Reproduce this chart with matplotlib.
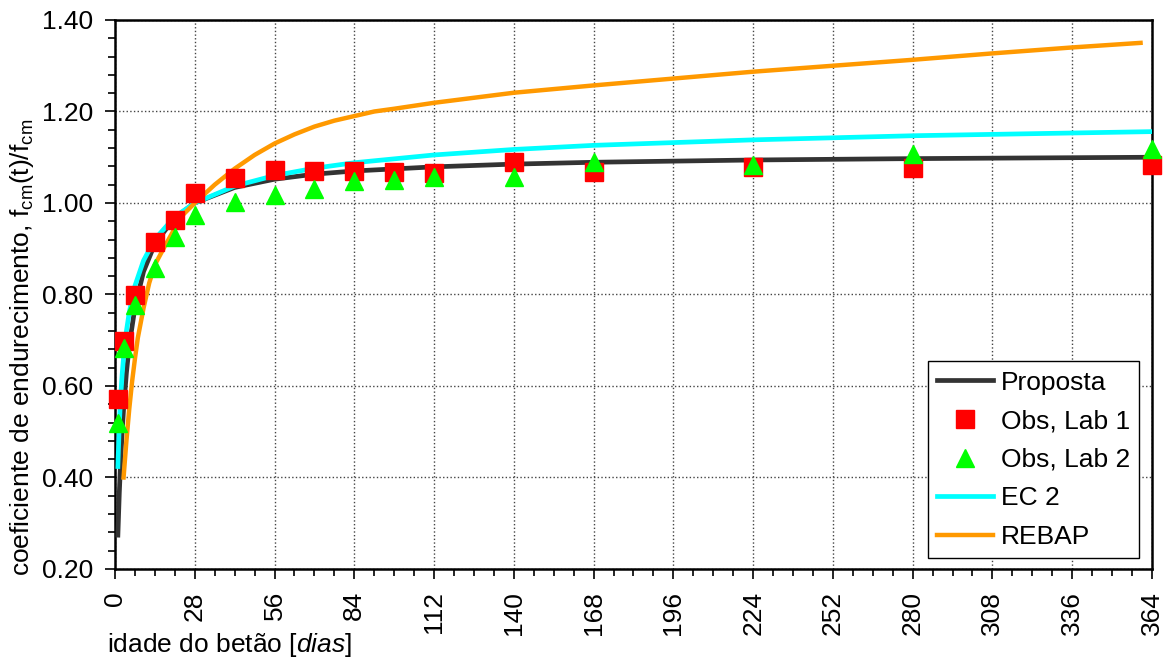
import numpy as np
import matplotlib
matplotlib.use("Agg")
import matplotlib.pyplot as plt
from matplotlib.ticker import MultipleLocator, FormatStrFormatter

plt.rcParams["font.family"] = ["Liberation Sans", "DejaVu Sans"]
plt.rcParams["mathtext.fontset"] = "custom"
plt.rcParams["mathtext.rm"] = "Liberation Sans"
plt.rcParams["mathtext.it"] = "Liberation Sans:italic"

# ---- Observed values (age in days, ratio fcm(t)/fcm)
obs_days = [1, 3, 7, 14, 21, 28, 42, 56, 70, 84, 98, 112, 140, 168, 224, 280, 364]
lab1 = [0.572, 0.699, 0.799, 0.915, 0.963, 1.021, 1.054, 1.072, 1.071, 1.071,
        1.068, 1.066, 1.089, 1.067, 1.079, 1.076, 1.083]
lab2 = [0.519, 0.683, 0.777, 0.858, 0.926, 0.974, 1.003, 1.017, 1.030, 1.047,
        1.050, 1.057, 1.056, 1.089, 1.083, 1.107, 1.117]

# ---- Curves
curve_days = [1, 1.5, 2, 2.5, 3, 4, 5, 7, 10, 14, 21, 28, 42, 56, 70, 84,
              112, 140, 168, 224, 280, 364]
proposta = [0.274, 0.366, 0.439, 0.500, 0.550, 0.629, 0.689, 0.772, 0.850,
            0.911, 0.968, 1.000, 1.034, 1.052, 1.063, 1.070, 1.079, 1.085,
            1.089, 1.094, 1.097, 1.100]
ec2 = [0.424, 0.515, 0.578, 0.625, 0.663, 0.720, 0.761, 0.819, 0.874,
       0.921, 0.970, 1.000, 1.037, 1.060, 1.076, 1.088, 1.105, 1.117,
       1.126, 1.138, 1.147, 1.156]

rebap_days = [3, 4, 5, 6, 7, 8, 10, 12, 14, 17, 21, 24, 28, 35, 42, 49, 56,
              63, 70, 77, 84, 91, 98, 112, 140, 168, 196, 224, 280, 308, 336, 360]
rebap = [0.400, 0.480, 0.550, 0.610, 0.660, 0.705, 0.770, 0.825, 0.865,
         0.900, 0.945, 0.975, 1.000, 1.040, 1.075, 1.105, 1.130, 1.150,
         1.167, 1.180, 1.190, 1.200, 1.206, 1.219, 1.241, 1.257, 1.272,
         1.287, 1.313, 1.327, 1.340, 1.350]

FS = 19

fig = plt.figure(figsize=(11.63, 6.60), dpi=100)
ax = fig.add_axes([0.0989, 0.1379, 0.8916, 0.8318])

h_prop, = ax.plot(curve_days, proposta, color="#333333", lw=3.4,
                  label="Proposta", zorder=3)
h_ec2, = ax.plot(curve_days, ec2, color="#00FFFF", lw=3.4, label="EC 2",
                 zorder=3)
h_reb, = ax.plot(rebap_days, rebap, color="#FF9900", lw=3.2, label="REBAP",
                 zorder=3)
h_l1, = ax.plot(obs_days, lab1, ls="none", marker="s", ms=13,
                color="#FF0000", mec="#FF0000", label="Obs, Lab 1",
                zorder=4, clip_on=False)
h_l2, = ax.plot(obs_days, lab2, ls="none", marker="^", ms=13.5,
                color="#00FF00", mec="#00FF00", label="Obs, Lab 2",
                zorder=5, clip_on=False)

ax.set_xlim(0, 364)
ax.set_ylim(0.20, 1.40)
ax.xaxis.set_major_locator(MultipleLocator(28))
ax.xaxis.set_minor_locator(MultipleLocator(7))
ax.yaxis.set_major_locator(MultipleLocator(0.2))
ax.yaxis.set_minor_locator(MultipleLocator(0.04))
ax.yaxis.set_major_formatter(FormatStrFormatter("%.2f"))
ax.tick_params(which="major", direction="out", length=7, width=1.2,
               labelsize=FS, pad=9)
ax.tick_params(which="minor", direction="out", length=5, width=1.2)
ax.tick_params(axis="x", labelrotation=90)
for s in ax.spines.values():
    s.set_linewidth(1.8)
ax.grid(True, which="major", ls=":", lw=1.0, color="#444444")
ax.set_axisbelow(True)

fig.text(107 / 1163, 1 - 645 / 660, r"idade do betão [$\mathit{dias}$]",
         fontsize=FS, ha="left", va="center")
fig.text(22 / 1163, 1 - 576 / 660,
         r"coeficiente de endurecimento, f$_{\mathregular{cm}}$(t)/f$_{\mathregular{cm}}$",
         fontsize=FS, rotation=90, ha="center", va="bottom")

leg = ax.legend(handles=[h_prop, h_l1, h_l2, h_ec2, h_reb],
                loc="lower right", bbox_to_anchor=(0.9875, 0.02),
                borderaxespad=0, fontsize=FS, frameon=True, fancybox=False,
                edgecolor="black", framealpha=1, numpoints=1,
                handlelength=2.1, handletextpad=0.3, labelspacing=0.55,
                borderpad=0.35)
leg.get_frame().set_linewidth(1.0)

fig.savefig("out.png", dpi=100)
